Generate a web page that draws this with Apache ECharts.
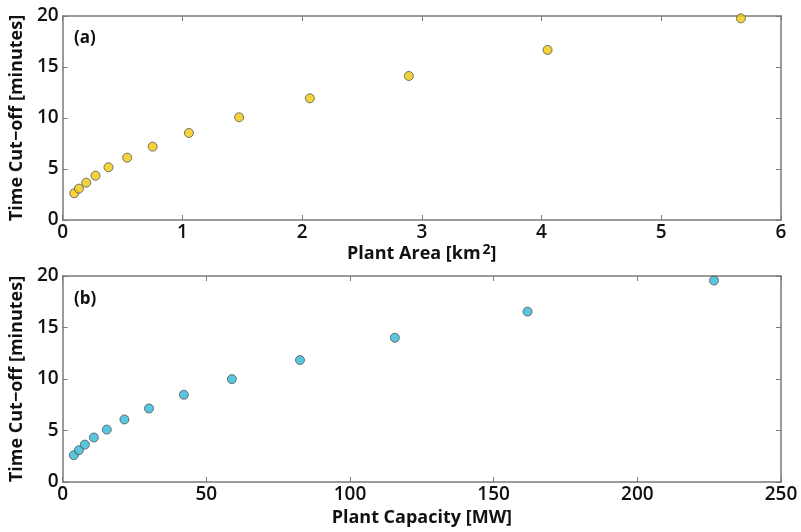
<!DOCTYPE html>
<html>
<head>
<meta charset="utf-8">
<script src="https://cdn.jsdelivr.net/npm/echarts@6/dist/echarts.min.js"></script>
<style>
    html, body { margin: 0; padding: 0; background: #fff; }
    #main { width: 801px; height: 532px; }
</style>
</head>
<body>
<div id="main"></div>
<script>
// values
var areaKm2 = [0.097, 0.136, 0.197, 0.275, 0.383, 0.539, 0.752, 1.055, 1.474, 2.065, 2.892, 4.05, 5.665];
var cutoffA = [2.62, 3.07, 3.66, 4.34, 5.17, 6.11, 7.19, 8.53, 10.07, 11.93, 14.12, 16.67, 19.77];
var capacityMW = [3.9, 5.65, 7.74, 10.87, 15.37, 21.5, 30.06, 42.2, 58.9, 82.6, 115.6, 161.8, 226.7];
var cutoffB = [2.6, 3.08, 3.63, 4.32, 5.09, 6.07, 7.14, 8.47, 9.99, 11.84, 14.0, 16.54, 19.56];

var font = '"Open Sans", sans-serif';
var frame = '#7a7a7a';

function pairs(xs, ys) {
    var out = [];
    for (var i = 0; i < xs.length; i++) {
        out.push([xs[i], ys[i]]);
    }
    return out;
}

// main axis (with labels) or mirror axis (ticks only)
function axis(idx, pos, max, interval, name, nameGap, mirror) {
    return {
        type: 'value',
        gridIndex: idx,
        position: pos,
        min: 0,
        max: max,
        interval: interval,
        splitLine: { show: false },
        axisLine: { show: true, onZero: false, lineStyle: { color: frame, width: 1.5 } },
        axisTick: { show: true, inside: true, length: 5, lineStyle: { color: frame, width: 1 } },
        axisLabel: {
            show: !mirror,
            color: '#111',
            fontFamily: font,
            fontWeight: 600,
            fontSize: 19,
            margin: pos === 'left' ? 4 : 3
        },
        name: mirror ? '' : name,
        nameLocation: 'middle',
        nameGap: nameGap,
        nameTextStyle: {
            color: '#111',
            fontFamily: font,
            fontWeight: 'bold',
            fontSize: 18,
            rich: {
                sup: { fontFamily: font, fontWeight: 'bold', fontSize: 14, color: '#111', verticalAlign: 'top', padding: [0, 0, 8, 2] }
            }
        }
    };
}

var myChart = echarts.init(document.getElementById('main'));
var option = {
    animation: false,
    backgroundColor: '#fff',
    title: [
        { text: '(a)', left: 69, top: 25, textStyle: { fontFamily: font, fontWeight: 'bold', fontSize: 17, color: '#111' } },
        { text: '(b)', left: 69, top: 286, textStyle: { fontFamily: font, fontWeight: 'bold', fontSize: 17, color: '#111' } }
    ],
    grid: [
        { left: 60, top: 16, width: 721, height: 204 },
        { left: 60, top: 276, width: 721, height: 206 }
    ],
    xAxis: [
        axis(0, 'bottom', 6, 1, 'Plant Area [km{sup|2}]', 20, false),
        axis(0, 'top', 6, 1, '', 0, true),
        axis(1, 'bottom', 250, 50, 'Plant Capacity [MW]', 27, false),
        axis(1, 'top', 250, 50, '', 0, true)
    ],
    yAxis: [
        axis(0, 'left', 20, 5, 'Time Cut\u2212off [minutes]', 33, false),
        axis(0, 'right', 20, 5, '', 0, true),
        axis(1, 'left', 20, 5, 'Time Cut\u2212off [minutes]', 33, false),
        axis(1, 'right', 20, 5, '', 0, true)
    ],
    series: [
        {
            name: 'area',
            type: 'scatter',
            xAxisIndex: 0,
            yAxisIndex: 0,
            symbolSize: 9,
            itemStyle: { color: '#f3c80c', borderColor: '#555', borderWidth: 1 },
            data: pairs(areaKm2, cutoffA)
        },
        {
            name: 'capacity',
            type: 'scatter',
            xAxisIndex: 2,
            yAxisIndex: 2,
            symbolSize: 9,
            itemStyle: { color: '#2fb7d6', borderColor: '#555', borderWidth: 1 },
            data: pairs(capacityMW, cutoffB)
        }
    ]
};
myChart.setOption(option);
</script>
</body>
</html>
